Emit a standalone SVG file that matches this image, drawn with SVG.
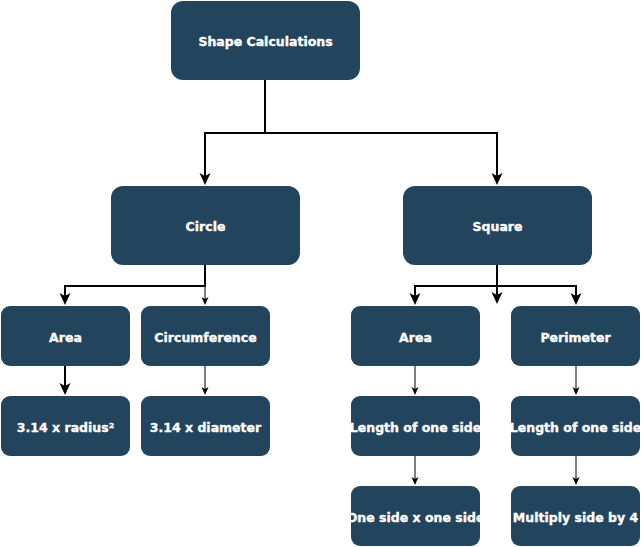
<svg xmlns="http://www.w3.org/2000/svg" width="642" height="547" viewBox="0 0 642 547">
<style>
.box{fill:#23445d;}
.lbl{font-family:"DejaVu Sans",Verdana,sans-serif;font-weight:bold;font-size:12.5px;fill:#ffffff;stroke:#ffffff;stroke-width:0.35;text-anchor:middle;}
.thick{fill:none;stroke:#000;stroke-width:2;}
.thin{fill:none;stroke:#000;stroke-width:1;}
</style>
<defs>
<marker id="ah" markerUnits="userSpaceOnUse" markerWidth="13" markerHeight="12" refX="3" refY="6" orient="auto" viewBox="0 0 13 12">
<path d="M0,0.5 L12,6 L0,11.5 L3,6 Z" fill="#000"/>
</marker>
<marker id="at" markerUnits="userSpaceOnUse" markerWidth="9" markerHeight="8" refX="2" refY="4" orient="auto" viewBox="0 0 9 8">
<path d="M0,0.5 L8,4 L0,7.5 L2,4 Z" fill="#000"/>
</marker>
<clipPath id="c1"><rect x="351" y="396" width="129" height="60"/></clipPath>
<clipPath id="c2"><rect x="511" y="396" width="129" height="60"/></clipPath>
<clipPath id="c3"><rect x="351" y="486" width="129" height="60"/></clipPath>
</defs>
<g id="connectors">
<path class="thick" d="M265,80 V133 H205 V176" marker-end="url(#ah)"/>
<path class="thick" d="M265,133 H497 V176" marker-end="url(#ah)"/>
<path class="thick" d="M205,265 V286 H65 V296" marker-end="url(#ah)"/>
<path class="thin" d="M205,265 V299" marker-end="url(#at)"/>
<path class="thick" d="M65,366 V386" marker-end="url(#ah)"/>
<path class="thin" d="M205,366 V389" marker-end="url(#at)"/>
<path class="thick" d="M497,265 V286 H415 V296" marker-end="url(#ah)"/>
<path class="thick" d="M497,286 H576 V296" marker-end="url(#ah)"/>
<path class="thick" d="M497,265 V295" marker-end="url(#ah)"/>
<path class="thin" d="M415,366 V389" marker-end="url(#at)"/>
<path class="thin" d="M415,456 V479" marker-end="url(#at)"/>
<path class="thin" d="M576,366 V389" marker-end="url(#at)"/>
<path class="thin" d="M576,456 V479" marker-end="url(#at)"/>
</g>
<g id="shape-calculations"><rect class="box" x="171" y="1" width="189" height="79" rx="12"/><text class="lbl" x="265.5" y="45.5">Shape Calculations</text></g>
<g id="circle"><rect class="box" x="111" y="186" width="189" height="79" rx="12"/><text class="lbl" x="205.5" y="231">Circle</text></g>
<g id="square"><rect class="box" x="403" y="186" width="189" height="79" rx="12"/><text class="lbl" x="497.5" y="231">Square</text></g>
<g id="circle-area"><rect class="box" x="1" y="306" width="129" height="60" rx="9"/><text class="lbl" x="65.5" y="341.5">Area</text></g>
<g id="circumference"><rect class="box" x="141" y="306" width="129" height="60" rx="9"/><text class="lbl" x="205.5" y="341.5">Circumference</text></g>
<g id="circle-area-formula"><rect class="box" x="1" y="396" width="129" height="60" rx="9"/><text class="lbl" x="65.5" y="431.5">3.14 x radius²</text></g>
<g id="circumference-formula"><rect class="box" x="141" y="396" width="129" height="60" rx="9"/><text class="lbl" x="205.5" y="431.5">3.14 x diameter</text></g>
<g id="square-area"><rect class="box" x="351" y="306" width="129" height="60" rx="9"/><text class="lbl" x="415.5" y="341.5">Area</text></g>
<g id="perimeter"><rect class="box" x="511" y="306" width="129" height="60" rx="9"/><text class="lbl" x="575.5" y="341.5">Perimeter</text></g>
<g id="area-length"><rect class="box" x="351" y="396" width="129" height="60" rx="9"/><text class="lbl" x="415.5" y="431.5" clip-path="url(#c1)">Length of one side</text></g>
<g id="perimeter-length"><rect class="box" x="511" y="396" width="129" height="60" rx="9"/><text class="lbl" x="575.5" y="431.5" clip-path="url(#c2)">Length of one side</text></g>
<g id="area-formula"><rect class="box" x="351" y="486" width="129" height="60" rx="9"/><text class="lbl" x="415.5" y="521.5" clip-path="url(#c3)">One side x one side</text></g>
<g id="perimeter-formula"><rect class="box" x="511" y="486" width="129" height="60" rx="9"/><text class="lbl" x="575.5" y="521.5">Multiply side by 4</text></g>
</svg>
